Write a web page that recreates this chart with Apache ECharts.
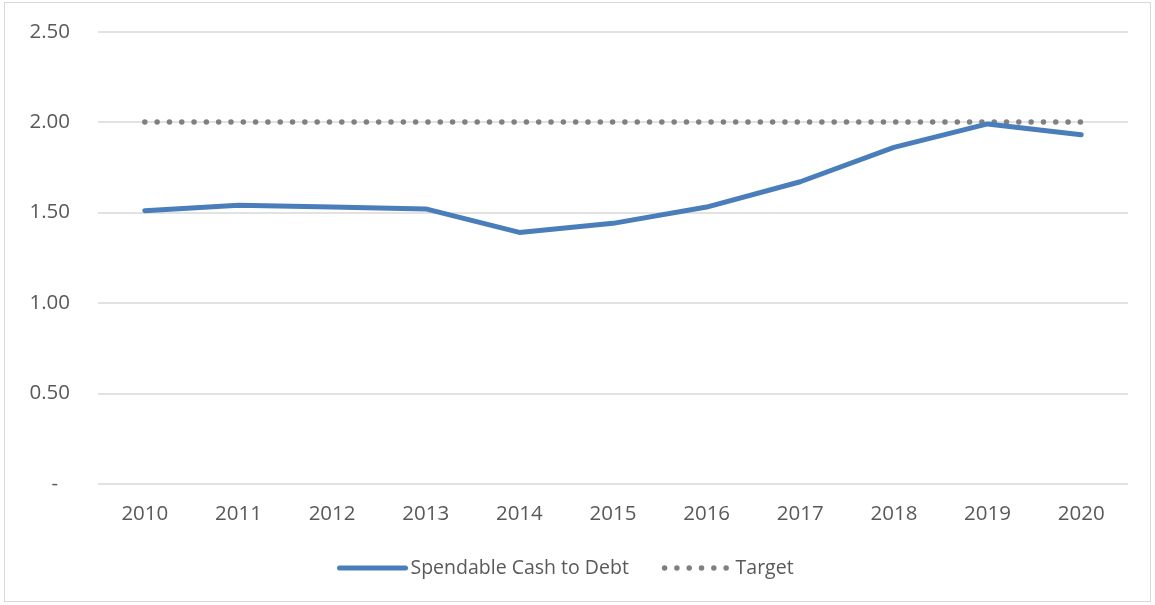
<!DOCTYPE html>
<html>
<head>
<meta charset="utf-8">
<script src="https://cdn.jsdelivr.net/npm/echarts@6/dist/echarts.min.js"></script>
<style>
  html, body { margin: 0; padding: 0; background: #fff; }
  #frame { position: absolute; left: 4px; top: 2px; width: 1147px; height: 600px; border: 1px solid #d9d9d9; box-sizing: border-box; }
  #chart { position: absolute; left: 0; top: 0; width: 1155px; height: 605px; }
</style>
</head>
<body>
<div id="frame"></div>
<div id="chart"></div>
<script>
// Fiscal years on the horizontal axis
const years = ['2010', '2011', '2012', '2013', '2014', '2015', '2016', '2017', '2018', '2019', '2020'];
// Spendable cash to debt ratio by year
const cashToDebt = [1.51, 1.54, 1.53, 1.52, 1.39, 1.44, 1.53, 1.67, 1.86, 1.99, 1.93];
// Policy target ratio
const target = [2.0, 2.0, 2.0, 2.0, 2.0, 2.0, 2.0, 2.0, 2.0, 2.0, 2.0];
// Vertical axis ticks
const yTicks = [0, 0.5, 1.0, 1.5, 2.0, 2.5];

const FONT = '"Open Sans", "Noto Sans", sans-serif';
const TEXT = '#595959';
const TICK_SIZE = 20.5;

const chart = echarts.init(document.getElementById('chart'), null, { renderer: 'canvas' });
chart.setOption({
  animation: false,
  grid: { left: 98, right: 27, top: 31.7, bottom: 121.3, containLabel: false },
  legend: {
    bottom: 22,
    left: 332,
    itemWidth: 66,
    itemHeight: 10,
    itemGap: 33,
    itemStyle: { opacity: 0 },
    lineStyle: { width: 'inherit', type: 'inherit', cap: 'round' },
    textStyle: { color: TEXT, fontFamily: FONT, fontSize: 19.5 },
    data: ['Spendable Cash to Debt', 'Target']
  },
  xAxis: {
    type: 'category',
    data: years,
    boundaryGap: true,
    axisLine: { show: false },
    axisTick: { show: false },
    axisLabel: { color: TEXT, fontFamily: FONT, fontSize: TICK_SIZE, margin: 20 }
  },
  yAxis: {
    type: 'value',
    min: yTicks[0],
    max: yTicks[yTicks.length - 1],
    interval: 0.5,
    axisLine: { show: false },
    axisTick: { show: false },
    splitLine: { lineStyle: { color: '#d9d9d9', width: 1.5 } },
    axisLabel: {
      color: TEXT, fontFamily: FONT, fontSize: TICK_SIZE, margin: 28,
      formatter: v => v === 0 ? '{d|-}' : v.toFixed(2),
      rich: { d: { color: TEXT, fontFamily: FONT, fontSize: TICK_SIZE, padding: [0, 12, 0, 0] } }
    }
  },
  series: [
    {
      name: 'Spendable Cash to Debt',
      type: 'line',
      data: cashToDebt,
      symbol: 'none',
      lineStyle: { color: '#4a7ebb', width: 5, cap: 'round', join: 'round' },
      itemStyle: { color: '#4a7ebb' },
      z: 3
    },
    {
      name: 'Target',
      type: 'line',
      data: target,
      symbol: 'none',
      lineStyle: { color: '#808080', width: 5.5, type: [0.01, 12.3], cap: 'round' },
      itemStyle: { color: '#808080' },
      z: 2
    }
  ]
});
</script>
</body>
</html>
